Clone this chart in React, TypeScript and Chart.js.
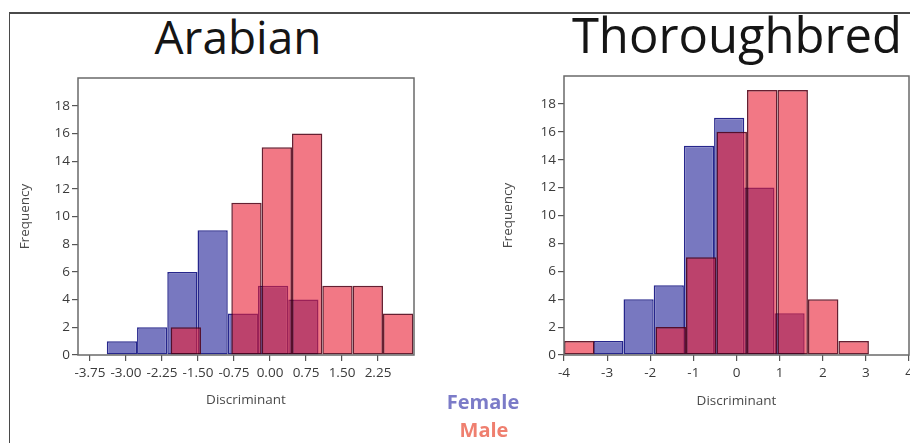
import React, { useEffect, useRef } from "react";
import { Chart, registerables } from "chart.js";

Chart.register(...registerables);

// ---------- data ----------
const Y_TICKS = [0, 2, 4, 6, 8, 10, 12, 14, 16, 18];
const Y_MAX = 20;

const ARABIAN_X_TICKS = [-3.75, -3.0, -2.25, -1.5, -0.75, 0, 0.75, 1.5, 2.25];
const ARABIAN_X_MIN = -4;
const ARABIAN_X_MAX = 3;
const ARABIAN_FEMALE_X = [-3.085, -2.455, -1.825, -1.195, -0.565, 0.065, 0.695];
const ARABIAN_FEMALE_N = [1, 2, 6, 9, 3, 5, 4];
const ARABIAN_MALE_X = [-1.754, -1.122, -0.49, 0.142, 0.774, 1.406, 2.038, 2.67];
const ARABIAN_MALE_N = [2, 0, 11, 15, 16, 5, 5, 3];

const THOR_X_TICKS = [-4, -3, -2, -1, 0, 1, 2, 3, 4];
const THOR_X_MIN = -4;
const THOR_X_MAX = 4;
const THOR_FEMALE_X = [-2.97, -2.27, -1.57, -0.87, -0.17, 0.53, 1.23];
const THOR_FEMALE_N = [1, 4, 5, 15, 17, 12, 3];
const THOR_MALE_X = [-3.646, -2.939, -2.232, -1.525, -0.818, -0.111, 0.596, 1.303, 2.01, 2.717];
const THOR_MALE_N = [1, 0, 0, 2, 7, 16, 19, 19, 4, 1];

const TITLES = ["Arabian", "Thoroughbred"];
const LEGEND = ["Female", "Male"];
const X_TITLE = "Discriminant";
const Y_TITLE = "Frequency";

// ---------- styles ----------
const FONT = "'Open Sans', sans-serif";
const FEMALE_FILL = "rgb(120,120,192)";
const FEMALE_EDGE = "#26268c";
const MALE_FILL = "rgba(233,30,52,0.6)";
const MALE_EDGE = "rgba(80,0,20,0.88)";

type ChartSpec = {
  femaleX: number[];
  femaleN: number[];
  maleX: number[];
  maleN: number[];
  xTicks: number[];
  xMin: number;
  xMax: number;
  decimals: number;
  padding: { left: number; top: number; right: number; bottom: number };
  yWidth: number;
  yTitlePad: number;
  xTitlePad: number;
};

const framePlugin = {
  id: "frameBox",
  afterDraw(chart: any) {
    const { ctx, chartArea: a } = chart;
    ctx.save();
    ctx.strokeStyle = "#6a6a6a";
    ctx.lineWidth = 1.5;
    ctx.strokeRect(a.left, a.top, a.right - a.left, a.bottom - a.top);
    ctx.restore();
  },
};

function buildConfig(s: ChartSpec): any {
  const barCommon = {
    borderWidth: 1.5,
    borderSkipped: false,
    barPercentage: 1,
    categoryPercentage: 1,
    inflateAmount: 0,
    grouped: false,
  };
  return {
    type: "bar",
    data: {
      datasets: [
        {
          label: LEGEND[1],
          data: s.maleX.map((x, i) => ({ x, y: s.maleN[i] })),
          xAxisID: "xm",
          order: 0,
          backgroundColor: MALE_FILL,
          borderColor: MALE_EDGE,
          ...barCommon,
        },
        {
          label: LEGEND[0],
          data: s.femaleX.map((x, i) => ({ x, y: s.femaleN[i] })),
          xAxisID: "x",
          order: 1,
          backgroundColor: FEMALE_FILL,
          borderColor: FEMALE_EDGE,
          ...barCommon,
        },
      ],
    },
    options: {
      animation: false,
      responsive: false,
      maintainAspectRatio: false,
      layout: { padding: s.padding },
      plugins: {
        legend: { display: false },
        tooltip: { enabled: false },
        title: { display: false },
      },
      scales: {
        x: {
          type: "linear",
          position: "bottom",
          offset: false,
          min: s.xMin,
          max: s.xMax,
          afterBuildTicks: (sc: any) => {
            sc.ticks = s.xTicks.map((v) => ({ value: v }));
          },
          ticks: {
            autoSkip: false,
            maxRotation: 0,
            padding: 4,
            color: "#3a3a3a",
            font: { family: FONT, size: 13.5 },
            callback: (v: any) => Number(v).toFixed(s.decimals),
          },
          grid: {
            display: true,
            offset: false,
            drawOnChartArea: false,
            drawTicks: true,
            tickLength: 6,
            color: "#555",
            lineWidth: 1.2,
          },
          border: { display: false },
          title: {
            display: true,
            text: X_TITLE,
            color: "#4a4a4a",
            font: { family: FONT, size: 13.5 },
            padding: { top: 0, bottom: s.xTitlePad },
          },
          afterFit: (sc: any) => {
            sc.height = 60;
          },
        },
        xm: {
          type: "linear",
          display: false,
          offset: false,
          min: s.xMin,
          max: s.xMax,
          afterBuildTicks: (sc: any) => {
            sc.ticks = s.xTicks.map((v) => ({ value: v }));
          },
        },
        y: {
          type: "linear",
          min: 0,
          max: Y_MAX,
          afterBuildTicks: (sc: any) => {
            sc.ticks = Y_TICKS.map((v) => ({ value: v }));
          },
          ticks: {
            padding: 2,
            color: "#3a3a3a",
            font: { family: FONT, size: 13.5 },
          },
          grid: {
            display: true,
            drawOnChartArea: false,
            drawTicks: true,
            tickLength: 6,
            color: "#555",
            lineWidth: 1.2,
          },
          border: { display: false },
          title: {
            display: true,
            text: Y_TITLE,
            color: "#4a4a4a",
            font: { family: FONT, size: 13.5 },
            padding: { top: s.yTitlePad, bottom: 0 },
          },
          afterFit: (sc: any) => {
            sc.width = s.yWidth;
          },
        },
      },
    },
    plugins: [framePlugin],
  };
}

const ARABIAN_SPEC: ChartSpec = {
  femaleX: ARABIAN_FEMALE_X,
  femaleN: ARABIAN_FEMALE_N,
  maleX: ARABIAN_MALE_X,
  maleN: ARABIAN_MALE_N,
  xTicks: ARABIAN_X_TICKS,
  xMin: ARABIAN_X_MIN,
  xMax: ARABIAN_X_MAX,
  decimals: 2,
  padding: { left: 0, top: 18, right: 36, bottom: 28 },
  yWidth: 68,
  yTitlePad: 6.9,
  xTitlePad: 6.9,
};

const THOR_SPEC: ChartSpec = {
  femaleX: THOR_FEMALE_X,
  femaleN: THOR_FEMALE_N,
  maleX: THOR_MALE_X,
  maleN: THOR_MALE_N,
  xTicks: THOR_X_TICKS,
  xMin: THOR_X_MIN,
  xMax: THOR_X_MAX,
  decimals: 0,
  padding: { left: 40, top: 16, right: 16, bottom: 28 },
  yWidth: 69,
  yTitlePad: 4.9,
  xTitlePad: 5.9,
};

function HistCanvas(props: { spec: ChartSpec; left: number; width: number }) {
  const ref = useRef<HTMLCanvasElement | null>(null);
  useEffect(() => {
    if (!ref.current) return;
    const chart = new Chart(ref.current, buildConfig(props.spec));
    return () => chart.destroy();
  }, [props.spec]);
  return (
    <canvas
      ref={ref}
      width={props.width}
      height={383}
      style={{
        position: "absolute",
        left: props.left,
        top: 60,
        width: props.width,
        height: 383,
      }}
    />
  );
}

export default function App() {
  return (
    <div
      style={{
        position: "fixed",
        left: 0,
        top: 0,
        width: 910,
        height: 443,
        overflow: "hidden",
        background: "#ffffff",
        fontFamily: FONT,
      }}
    >
      <div style={{ position: "absolute", left: 8.5, top: 12, width: 902, height: 1.5, background: "#4a4a4a" }} />
      <div style={{ position: "absolute", left: 8.5, top: 12, width: 1.5, height: 432, background: "#4a4a4a" }} />

      <div
        style={{
          position: "absolute",
          left: 0,
          width: 476,
          top: 12.5,
          fontSize: 46,
          lineHeight: "46px",
          textAlign: "center",
          color: "#151515",
          whiteSpace: "nowrap",
        }}
      >
        {TITLES[0]}
      </div>
      <div
        style={{
          position: "absolute",
          left: 537,
          width: 400,
          top: 9.8,
          fontSize: 49,
          lineHeight: "49px",
          textAlign: "center",
          color: "#151515",
          whiteSpace: "nowrap",
        }}
      >
        {TITLES[1]}
      </div>

      <HistCanvas spec={ARABIAN_SPEC} left={10} width={440} />
      <HistCanvas spec={THOR_SPEC} left={455} width={470} />

      <div
        style={{
          position: "absolute",
          left: 403,
          width: 160,
          top: 391.7,
          fontSize: 20,
          lineHeight: "20px",
          fontWeight: 700,
          textAlign: "center",
          color: "#7b7bc8",
        }}
      >
        {LEGEND[0]}
      </div>
      <div
        style={{
          position: "absolute",
          left: 404,
          width: 160,
          top: 419.5,
          fontSize: 20,
          lineHeight: "20px",
          fontWeight: 700,
          textAlign: "center",
          color: "#ef7f6f",
        }}
      >
        {LEGEND[1]}
      </div>
    </div>
  );
}
